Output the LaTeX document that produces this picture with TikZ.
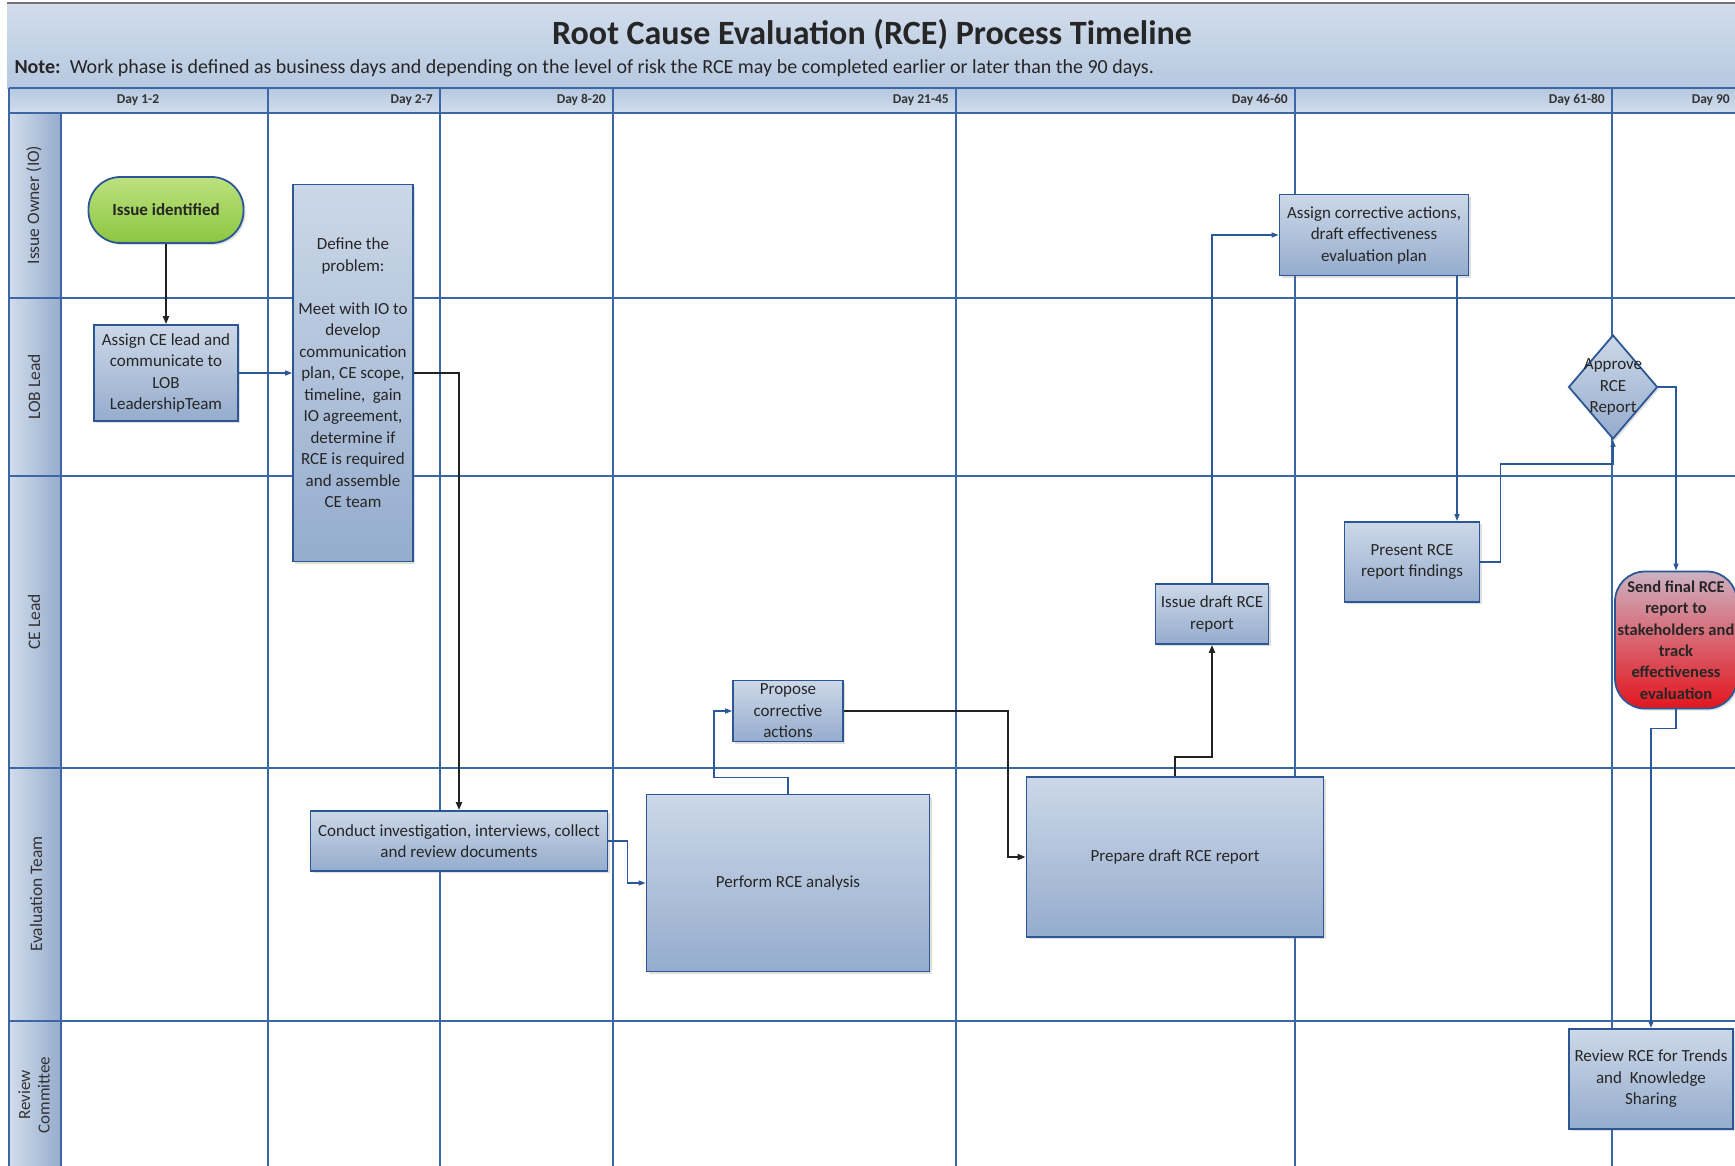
\documentclass[tikz,border=0pt]{standalone}
\usepackage{fontspec}
\setmainfont{Carlito}
\usetikzlibrary{shapes.geometric,arrows.meta,shadows}

\definecolor{gridblue}{HTML}{3D66A4}
\definecolor{boxedge}{HTML}{2C5795}
\definecolor{boxlight}{HTML}{CCD8E8}
\definecolor{boxdark}{HTML}{95ACCD}
\definecolor{bandlight}{HTML}{D2DDEC}
\definecolor{banddark}{HTML}{B6C8E0}
\definecolor{flowblue}{HTML}{2B5998}
\definecolor{flowblack}{HTML}{222222}
\definecolor{greenlight}{HTML}{BCE27F}
\definecolor{greendark}{HTML}{8CC640}
\definecolor{redlight}{HTML}{CDB2C2}
\definecolor{reddark}{HTML}{E3161E}

\begin{document}
\begin{tikzpicture}[x=1pt,y=-1pt,
    lane/.style={draw=gridblue,line width=2pt},
    task/.style={draw=boxedge,line width=1.8pt,top color=boxlight,bottom color=boxdark,
        align=center,inner sep=1pt,text=black!85,font=\fontsize{17}{21.5}\selectfont,
        drop shadow={opacity=.25,shadow xshift=2pt,shadow yshift=-2pt}},
    startbox/.style={task,rounded corners=32pt,top color=greenlight,bottom color=greendark,
        font=\bfseries\fontsize{17}{21.5}\selectfont},
    endbox/.style={task,rounded corners=30pt,top color=redlight,middle color=red!55!redlight,
        bottom color=reddark,font=\bfseries\fontsize{16.5}{21.3}\selectfont},
    decision/.style={task,diamond,inner sep=0pt},
    dayhead/.style={font=\bfseries\fontsize{13.5}{15}\selectfont,text=black!80,inner sep=0pt},
    lanehead/.style={rotate=90,font=\fontsize{17.5}{20}\selectfont,text=black!80,align=center},
    flowb/.style={draw=flowblue,line width=1.4pt,-{Triangle[length=7pt,width=5pt]}},
    flowk/.style={draw=flowblack,line width=2pt,-{Triangle[length=8pt,width=6pt]}}
]
\useasboundingbox (0,0) rectangle (1735,1165);
\clip (0,0) rectangle (1735,1165);

% title and header bands
\fill[top color=bandlight,bottom color=banddark] (7,3) rectangle (1740,88);
\fill[top color=banddark,bottom color=bandlight] (9,88) rectangle (1740,113);
\fill[left color=bandlight,right color=boxdark] (9,113) rectangle (61,1170);
\draw[line width=2pt,draw=black!55] (7,3) -- (1740,3);

\node[font=\bfseries\fontsize{34}{40}\selectfont,text=black!85] (title) at (872,34)
    {Root Cause Evaluation (RCE) Process Timeline};
\node[anchor=west,font=\fontsize{20}{24}\selectfont,text=black!85] (note) at (11,68)
    {\textbf{Note:}\ \ Work phase is defined as business days and depending on the level of risk the RCE may be completed earlier or later than the 90 days.};

% grid
\draw[lane] (9,88) -- (1740,88);
\foreach \yy in {113,298,476,768,1021}
    \draw[lane] (9,\yy) -- (1740,\yy);
\foreach \xx in {9,268,440,613,956,1295,1612}
    \draw[lane] (\xx,88) -- (\xx,1170);
\draw[lane] (61,113) -- (61,1170);

% day columns
\node[dayhead] (d1) at (138,100) {Day 1-2};
\foreach \xr/\lbl [count=\i from 2] in {440/Day 2-7,613/Day 8-20,956/Day 21-45,1295/Day 46-60,1612/Day 61-80,1737/Day 90}
    \node[dayhead,anchor=east] (d\i) at (\xr-7,100) {\lbl};

% lanes
\node[lanehead] (io) at (34,205) {Issue Owner (IO)};
\node[lanehead] (lob) at (34,387) {LOB Lead};
\node[lanehead] (cel) at (34,622) {CE Lead};
\node[lanehead] (evt) at (36,894) {Evaluation Team};
\node[lanehead,font=\fontsize{17}{19.5}\selectfont] (rvc) at (34,1095) {Review\\Committee};

% steps
\node[startbox,minimum width=155pt,minimum height=66pt] (issue) at (166,210) {Issue identified};
\node[task,minimum width=144pt,minimum height=96pt] (assignce) at (166,373)
    {Assign CE lead and\\communicate to\\LOB\\LeadershipTeam};
\node[task,minimum width=120pt,minimum height=377pt] (define) at (353,373)
    {Define the\\problem:\\[21.5pt]Meet with IO to\\develop\\communication\\plan, CE scope,\\timeline,\ \ gain\\IO agreement,\\determine if\\RCE is required\\and assemble\\CE team};
\node[task,minimum width=297pt,minimum height=60pt] (conduct) at (459,841)
    {Conduct investigation, interviews, collect\\and review documents};
\node[task,minimum width=283pt,minimum height=177pt] (perform) at (788,883) {Perform RCE analysis};
\node[task,minimum width=110pt,minimum height=61pt] (propose) at (788,711)
    {Propose\\corrective\\actions};
\node[task,minimum width=297pt,minimum height=160pt] (prepare) at (1175,857) {Prepare draft RCE report};
\node[task,minimum width=113pt,minimum height=60pt] (issuedraft) at (1212,614)
    {Issue draft RCE\\report};
\node[task,minimum width=189pt,minimum height=81pt] (assigncorr) at (1374,235)
    {Assign corrective actions,\\draft effectiveness\\evaluation plan};
\node[task,minimum width=135pt,minimum height=80pt] (present) at (1412,562)
    {Present RCE\\report findings};
\node[decision,minimum width=89pt,minimum height=104pt,
    label={[align=center,font=\fontsize{17}{21.5}\selectfont,text=black!85]center:Approve\\RCE\\Report}]
    (approve) at (1613,387) {};
\node[endbox,minimum width=122pt,minimum height=137pt] (sendfinal) at (1676,640)
    {Send final RCE\\report to\\stakeholders and\\track\\effectiveness\\evaluation};
\node[task,minimum width=164pt,minimum height=100pt] (review) at (1651,1079)
    {Review RCE for Trends\\and\ \ Knowledge\\Sharing};

% flow
\draw[flowk] (issue) -- (assignce);
\draw[flowb] (assignce) -- (define);
\draw[flowk] (define.east) -| (conduct.north);
\draw[flowb] (conduct.east) -- ++(19,0) |- (perform.west);
\draw[flowb] (perform.north) -- ++(0,-16) -| ([xshift=-18pt]propose.west) -- (propose.west);
\draw[flowk] (propose.east) -- ++(164,0) |- (prepare.west);
\draw[flowk] (prepare.north) -- ++(0,-19) -| (issuedraft.south);
\draw[flowb] (issuedraft.north) |- (assigncorr.west);
\draw[flowb] ([xshift=83pt]assigncorr.south) -- ([xshift=83pt]assigncorr.south |- present.north);
\draw[flowb] (present.east) -- ++(20,0) |- ([yshift=-24pt]approve.south) -- (approve.south);
\draw[flowb] (approve.east) -| (sendfinal.north);
\draw[flowb] (sendfinal.south) -- ++(0,19) -| (review.north);
\end{tikzpicture}
\end{document}
